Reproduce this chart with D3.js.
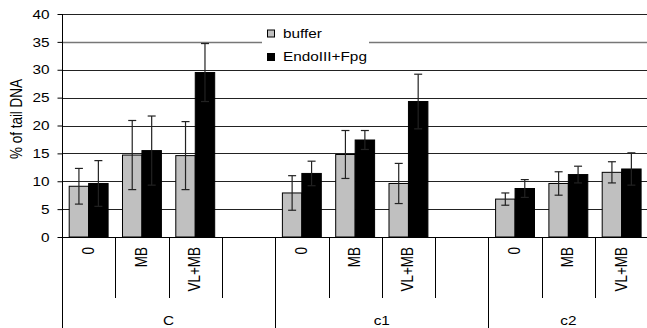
<!DOCTYPE html>
<html>
<head>
<meta charset="utf-8">
<script src="https://cdn.jsdelivr.net/npm/d3@7"></script>
<style>
  html, body { margin: 0; padding: 0; background: #fff; }
  svg { display: block; font-family: "Liberation Sans", Arial, sans-serif; }
</style>
</head>
<body>
<svg id="chart" width="647" height="328"></svg>
<script>
// groups and treatments (blank slot between groups)
const groups = ["C", "c1", "c2"];
const treatments = ["0", "MB", "VL+MB"];
const seriesNames = ["buffer", "EndoIII+Fpg"];

// mean % of tail DNA per group, treatment order 0, MB, VL+MB
const bufferMean = [[9.1, 14.7, 14.6], [7.9, 14.8, 9.6], [6.8, 9.6, 11.6]];
const bufferErr  = [[3.2, 6.2, 6.1],  [3.1, 4.3, 3.6], [1.1, 2.1, 1.9]];
const endoMean   = [[9.6, 15.5, 29.5], [11.4, 17.4, 24.3], [8.7, 11.2, 12.2]];
const endoErr    = [[4.1, 6.2, 5.2],  [2.2, 1.7, 4.9],  [1.6, 1.5, 2.9]];

const yTicks = [0, 5, 10, 15, 20, 25, 30, 35, 40];

/* ----------- layout ----------- */
const svg = d3.select("#chart");
const margin = { left: 62, right: 0, top: 14, bottom: 91 };
const W = 647, H = 328;
const plotBottom = H - margin.bottom;
const stretch = 1.18; // original picture is widened, text too

// slots: each group has 3 treatments + 1 blank, last group no blank
const slots = [];
groups.forEach((g, gi) => {
  treatments.forEach((t, ti) => slots.push({ key: g + "|" + t, g, gi, t, ti }));
  if (gi < groups.length - 1) slots.push({ key: g + "|blank", g, gi, t: null });
});

const x = d3.scaleBand()
  .domain(slots.map(s => s.key))
  .range([margin.left, margin.left + 53.3 * slots.length])
  .padding(0);

const y = d3.scaleLinear().domain([0, 40]).range([plotBottom, margin.top]);

const colors = ["#c0c0c0", "#000000"];
const inner = d3.scaleBand().domain(seriesNames).range([0, x.bandwidth()]).paddingOuter(0.37).paddingInner(0);

// gridlines
svg.append("g")
  .selectAll("line")
  .data(yTicks.filter(d => d > 0))
  .join("line")
  .attr("x1", margin.left).attr("x2", W)
  .attr("y1", d => Math.round(y(d)) + 0.5).attr("y2", d => Math.round(y(d)) + 0.5)
  .attr("stroke", d => d === 35 ? "#777" : "#222")
  .attr("stroke-width", d => d === 35 ? 1.5 : 1);

// y axis
const yAxis = d3.axisLeft(y).tickValues(yTicks).tickSize(5).tickPadding(6);
const ya = svg.append("g")
  .attr("transform", `translate(${margin.left + 0.5},0)`)
  .call(yAxis);
ya.select(".domain").remove();
ya.selectAll(".tick line").attr("stroke", "#000");
ya.selectAll(".tick text")
  .attr("font-size", 13)
  .attr("fill", "#000")
  .attr("font-family", "Liberation Sans, Arial, sans-serif")
  .attr("transform", `scale(${stretch},1)`);

svg.append("line")
  .attr("x1", margin.left + 0.5).attr("x2", margin.left + 0.5)
  .attr("y1", margin.top).attr("y2", H)
  .attr("stroke", "#000");

// y label
svg.append("text")
  .attr("transform", `translate(22,119) rotate(-90) scale(1,${stretch})`)
  .attr("text-anchor", "middle")
  .attr("font-size", 13.5)
  .text("% of tail DNA");

// bars
const barData = [];
slots.filter(s => s.t !== null).forEach(s => {
  barData.push({ s, name: seriesNames[0], v: bufferMean[s.gi][s.ti], e: bufferErr[s.gi][s.ti], c: colors[0] });
  barData.push({ s, name: seriesNames[1], v: endoMean[s.gi][s.ti], e: endoErr[s.gi][s.ti], c: colors[1] });
});

svg.append("g")
  .selectAll("rect")
  .data(barData)
  .join("rect")
  .attr("x", d => x(d.s.key) + inner(d.name))
  .attr("y", d => y(d.v))
  .attr("width", inner.bandwidth())
  .attr("height", d => y(0) - y(d.v))
  .attr("fill", d => d.c)
  .attr("stroke", "#000")
  .attr("stroke-width", 1);

// error bars
const eb = svg.append("g").attr("stroke", "#222").attr("stroke-width", 1.2);
barData.forEach(d => {
  const cx = x(d.s.key) + inner(d.name) + inner.bandwidth() / 2;
  eb.append("line").attr("x1", cx).attr("x2", cx).attr("y1", y(d.v + d.e)).attr("y2", y(Math.max(0, d.v - d.e)));
  [d.v + d.e, d.v - d.e].forEach(v => {
    eb.append("line").attr("x1", cx - 4).attr("x2", cx + 4).attr("y1", y(v)).attr("y2", y(v));
  });
});

// x axis line
svg.append("line")
  .attr("x1", margin.left).attr("x2", W)
  .attr("y1", Math.round(y(0)) + 0.5).attr("y2", Math.round(y(0)) + 0.5)
  .attr("stroke", "#000");

// category boundaries
const cat = svg.append("g").attr("stroke", "#000");
slots.forEach((s, i) => {
  if (i === 0) return;
  const bx = Math.round(x(s.key)) + 0.5;
  const groupStart = s.g !== slots[i - 1].g;
  cat.append("line")
    .attr("x1", bx).attr("x2", bx)
    .attr("y1", y(0)).attr("y2", groupStart ? H : 298);
});

// treatment labels
svg.append("g")
  .selectAll("text")
  .data(slots.filter(s => s.t !== null))
  .join("text")
  .attr("transform", d => `translate(${x(d.key) + x.bandwidth() / 2 + 5},${y(0) + 10}) rotate(-90) scale(1,${stretch})`)
  .attr("text-anchor", "end")
  .attr("font-size", 13.5)
  .text(d => d.t);

// group labels
svg.append("g")
  .selectAll("text")
  .data(groups)
  .join("text")
  .attr("transform", g => {
    const gs = slots.filter(s => s.g === g);
    const cx = (x(gs[0].key) + x(gs[gs.length - 1].key) + x.bandwidth()) / 2;
    return `translate(${cx},325) scale(${stretch},1)`;
  })
  .attr("text-anchor", "middle")
  .attr("font-size", 13)
  .text(g => g);

// legend
const lg = svg.append("g");
lg.append("rect").attr("x", 262).attr("y", 22).attr("width", 107).attr("height", 44).attr("fill", "#fff");
seriesNames.forEach((n, i) => {
  const ly = 33.5 + i * 23.5;
  lg.append("rect").attr("x", 267.5).attr("y", ly - 3.5).attr("width", 7).attr("height", 7)
    .attr("fill", colors[i]).attr("stroke", "#000");
  lg.append("text")
    .attr("transform", `translate(283,${ly + 4}) scale(${stretch},1)`)
    .attr("font-size", 13)
    .text(n);
});
</script>
</body>
</html>
